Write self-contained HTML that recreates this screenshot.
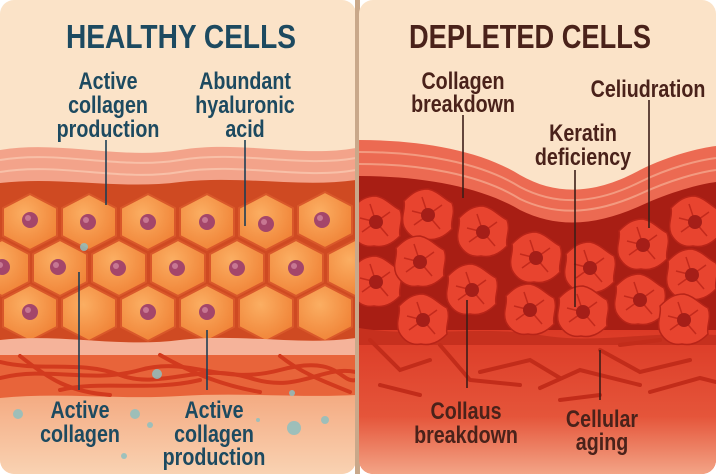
<!DOCTYPE html>
<html><head><meta charset="utf-8"><style>
html,body{margin:0;padding:0;background:#fff;}
svg{display:block}
text{font-family:"Liberation Sans",sans-serif;font-weight:bold;}
</style></head><body>
<svg width="716" height="474" viewBox="0 0 716 474" xmlns="http://www.w3.org/2000/svg">
<defs>
<clipPath id="cl"><rect x="0" y="0" width="356" height="474" rx="14"/></clipPath>
<clipPath id="cr"><rect x="359" y="0" width="357" height="474" rx="14"/></clipPath>
<linearGradient id="lb" x1="0" y1="0" x2="0" y2="1"><stop offset="0" stop-color="#f08a5a"/><stop offset="1" stop-color="#f9d2b2"/></linearGradient>
<linearGradient id="rb" x1="0" y1="0" x2="0" y2="1"><stop offset="0" stop-color="#dc3a26"/><stop offset="0.6" stop-color="#e5553a"/><stop offset="1" stop-color="#f3a486"/></linearGradient>
<radialGradient id="hx" cx="0.4" cy="0.35" r="0.7"><stop offset="0" stop-color="#fbae62"/><stop offset="1" stop-color="#f08236"/></radialGradient>
<g id="hex"><polygon points="0,-28 27,-14 27,14 0,28 -27,14 -27,-14" fill="url(#hx)" stroke="#d9582a" stroke-width="2" stroke-linejoin="round"/></g>
<g id="nuc"><circle r="8" fill="#a4466a"/><circle cx="-2" cy="-2" r="3" fill="#c77792"/></g>
<g id="rc"><path d="M0,-26 C10,-24 16,-16 24,-12 C28,-2 22,6 24,14 C16,22 8,26 -2,24 C-12,26 -20,20 -24,12 C-28,2 -22,-6 -24,-14 C-16,-22 -10,-26 0,-26Z" fill="#e8442f" stroke="#b82418" stroke-width="1.5"/><path d="M0,0 L-6,-18 M0,0 L14,-10 M0,0 L12,14 M0,0 L-14,10 M0,0 L-16,-4" stroke="#c42a1c" stroke-width="1.5" fill="none"/><circle r="7" fill="#a51e18"/></g>
</defs>
<rect width="716" height="474" fill="#ffffff"/>
<!-- LEFT -->
<g clip-path="url(#cl)">
<rect x="0" y="0" width="356" height="474" fill="#fbe3c8"/>
<rect x="0" y="330" width="356" height="144" fill="url(#lb)"/>
<path d="M0,150 C60,140 120,160 180,150 C240,140 300,158 356,148 L356,200 L0,200Z" fill="#f3a38a"/>
<path d="M0,160 C60,150 120,170 180,160 C240,150 300,168 356,158" stroke="#f8c0a8" stroke-width="2" fill="none"/>
<path d="M0,172 C60,162 120,182 180,172 C240,162 300,180 356,170" stroke="#f8c0a8" stroke-width="2" fill="none"/>
<path d="M0,183 C60,176 120,190 180,182 C240,175 300,188 356,180 L356,345 L0,345Z" fill="#cf4a22"/>
<g>
<use href="#hex" x="30" y="222"/><use href="#hex" x="89" y="222"/><use href="#hex" x="148" y="222"/><use href="#hex" x="207" y="222"/><use href="#hex" x="266" y="222"/><use href="#hex" x="325" y="220"/>
<use href="#hex" x="2" y="268"/><use href="#hex" x="60" y="268"/><use href="#hex" x="119" y="268"/><use href="#hex" x="178" y="268"/><use href="#hex" x="237" y="268"/><use href="#hex" x="296" y="268"/><use href="#hex" x="355" y="268"/>
<use href="#hex" x="30" y="313"/><use href="#hex" x="89" y="313"/><use href="#hex" x="148" y="313"/><use href="#hex" x="207" y="313"/><use href="#hex" x="266" y="313"/><use href="#hex" x="325" y="313"/>
<use href="#nuc" x="30" y="220"/><use href="#nuc" x="88" y="222"/><use href="#nuc" x="148" y="222"/><use href="#nuc" x="207" y="222"/><use href="#nuc" x="266" y="224"/><use href="#nuc" x="322" y="220"/>
<use href="#nuc" x="2" y="267"/><use href="#nuc" x="58" y="267"/><use href="#nuc" x="118" y="268"/><use href="#nuc" x="177" y="268"/><use href="#nuc" x="237" y="268"/><use href="#nuc" x="296" y="268"/>
<use href="#nuc" x="30" y="312"/><use href="#nuc" x="148" y="312"/><use href="#nuc" x="207" y="312"/>
</g>
<path d="M0,340 C60,333 120,348 180,340 C240,333 300,346 356,338 L356,355 L0,355Z" fill="#f5b39a"/>
<path d="M0,355 L356,355 L356,395 C300,398 240,392 180,396 C120,400 60,392 0,398Z" fill="#e8643a"/>
<g stroke="#d23a1e" stroke-width="4" fill="none" stroke-linecap="round">
<path d="M0,362 C40,372 80,360 120,375 S200,362 250,378 S320,365 356,372"/>
<path d="M0,378 C50,366 90,384 140,370 S220,386 280,370 S340,384 356,380"/>
<path d="M20,356 C50,380 70,392 110,395"/><path d="M160,355 C190,372 220,385 260,392"/>
<path d="M280,356 C300,372 320,380 350,392"/><path d="M60,390 C100,380 150,392 200,380"/>
</g>
<g fill="#8fc0c0" opacity="0.85">
<circle cx="84" cy="247" r="4"/><circle cx="157" cy="374" r="5"/><circle cx="18" cy="414" r="5"/><circle cx="135" cy="414" r="5"/><circle cx="150" cy="425" r="3"/><circle cx="294" cy="428" r="7"/><circle cx="325" cy="420" r="4"/><circle cx="124" cy="456" r="3"/><circle cx="292" cy="393" r="3"/><circle cx="258" cy="420" r="2"/>
</g>
<g stroke="#1d3f55" stroke-width="1.6">
<line x1="106" y1="140" x2="106" y2="205"/><line x1="245" y1="140" x2="245" y2="226"/>
<line x1="79" y1="272" x2="79" y2="390"/><line x1="207" y1="330" x2="207" y2="390"/>
</g>
<g fill="#1d4a60" text-anchor="middle">
<text x="181" y="48" font-size="33" textLength="230" lengthAdjust="spacingAndGlyphs">HEALTHY CELLS</text>
<g transform="translate(108,0) scale(0.82,1)" font-size="24"><text x="0" y="89">Active</text><text x="0" y="113">collagen</text><text x="0" y="137">production</text></g>
<g transform="translate(245,0) scale(0.82,1)" font-size="24"><text x="0" y="89">Abundant</text><text x="0" y="113">hyaluronic</text><text x="0" y="137">acid</text></g>
<g transform="translate(80,0) scale(0.82,1)" font-size="24"><text x="0" y="418">Active</text><text x="0" y="442">collagen</text></g>
<g transform="translate(214,0) scale(0.82,1)" font-size="24"><text x="0" y="418">Active</text><text x="0" y="442">collagen</text><text x="0" y="465">production</text></g>
</g>
</g>
<!-- divider -->
<rect x="355" y="0" width="5" height="474" fill="#c9a88a"/>
<!-- RIGHT -->
<g clip-path="url(#cr)">
<rect x="359" y="0" width="357" height="474" fill="#fbe3c8"/>
<path d="M359,140 C420,140 480,150 520,175 C560,198 600,192 640,170 C670,155 700,148 716,146 L716,474 L359,474Z" fill="#ec6a52"/>
<path d="M359,152 C420,152 480,162 520,187 C560,208 600,202 640,182 C670,167 700,160 716,158" stroke="#f39a80" stroke-width="2" fill="none"/>
<path d="M359,164 C420,164 480,174 520,199 C560,218 600,212 640,194 C670,180 700,172 716,170" stroke="#f39a80" stroke-width="2" fill="none"/>
<path d="M359,176 C420,176 480,186 520,210 C560,230 600,224 640,206 C670,192 700,184 716,182 L716,340 C650,345 600,330 540,335 C480,340 420,330 359,335Z" fill="#a81e14"/>
<rect x="359" y="330" width="357" height="144" fill="url(#rb)"/>
<path d="M359,328 C420,338 480,325 540,335 C600,345 650,330 716,335 L716,345 L359,345Z" fill="#c6301e"/>
<g>
<use href="#rc" x="376" y="222"/><use href="#rc" x="428" y="215"/><use href="#rc" x="483" y="232"/><use href="#rc" x="536" y="258"/><use href="#rc" x="590" y="268"/><use href="#rc" x="643" y="245"/><use href="#rc" x="695" y="222"/>
<use href="#rc" x="376" y="282"/><use href="#rc" x="420" y="262"/><use href="#rc" x="472" y="290"/><use href="#rc" x="530" y="310"/><use href="#rc" x="583" y="312"/><use href="#rc" x="640" y="300"/><use href="#rc" x="692" y="275"/>
<use href="#rc" x="423" y="320"/><use href="#rc" x="684" y="320"/>
</g>
<g stroke="#c22c1a" stroke-width="4" fill="none" stroke-linecap="round">
<path d="M370,340 L400,370 L430,360"/><path d="M440,345 L470,380 L520,385"/><path d="M480,372 L530,360 L560,378"/>
<path d="M540,388 L580,370 L640,385"/><path d="M600,350 L640,372 L690,360"/><path d="M650,392 L700,378 L716,382"/>
<path d="M380,385 L420,395"/><path d="M620,345 L660,340"/><path d="M560,400 L600,395"/>
</g>
<g stroke="#3d1e18" stroke-width="1.6">
<line x1="463" y1="115" x2="463" y2="198"/><line x1="575" y1="170" x2="575" y2="307"/>
<line x1="649" y1="100" x2="649" y2="228"/><line x1="467" y1="300" x2="467" y2="388"/><line x1="600" y1="350" x2="600" y2="400"/>
</g>
<g fill="#4a221a" text-anchor="middle">
<text x="530" y="48" font-size="33" textLength="242" lengthAdjust="spacingAndGlyphs">DEPLETED CELLS</text>
<g transform="translate(463,0) scale(0.82,1)" font-size="24"><text x="0" y="89">Collagen</text><text x="0" y="112">breakdown</text></g>
<g transform="translate(648,0) scale(0.82,1)" font-size="24"><text x="0" y="97">Celiudration</text></g>
<g transform="translate(583,0) scale(0.82,1)" font-size="24"><text x="0" y="141">Keratin</text><text x="0" y="165">deficiency</text></g>
<g transform="translate(466,0) scale(0.82,1)" font-size="24"><text x="0" y="419">Collaus</text><text x="0" y="443">breakdown</text></g>
<g transform="translate(602,0) scale(0.82,1)" font-size="24"><text x="0" y="427">Cellular</text><text x="0" y="450">aging</text></g>
</g>
</g>
</svg>
</body></html>
